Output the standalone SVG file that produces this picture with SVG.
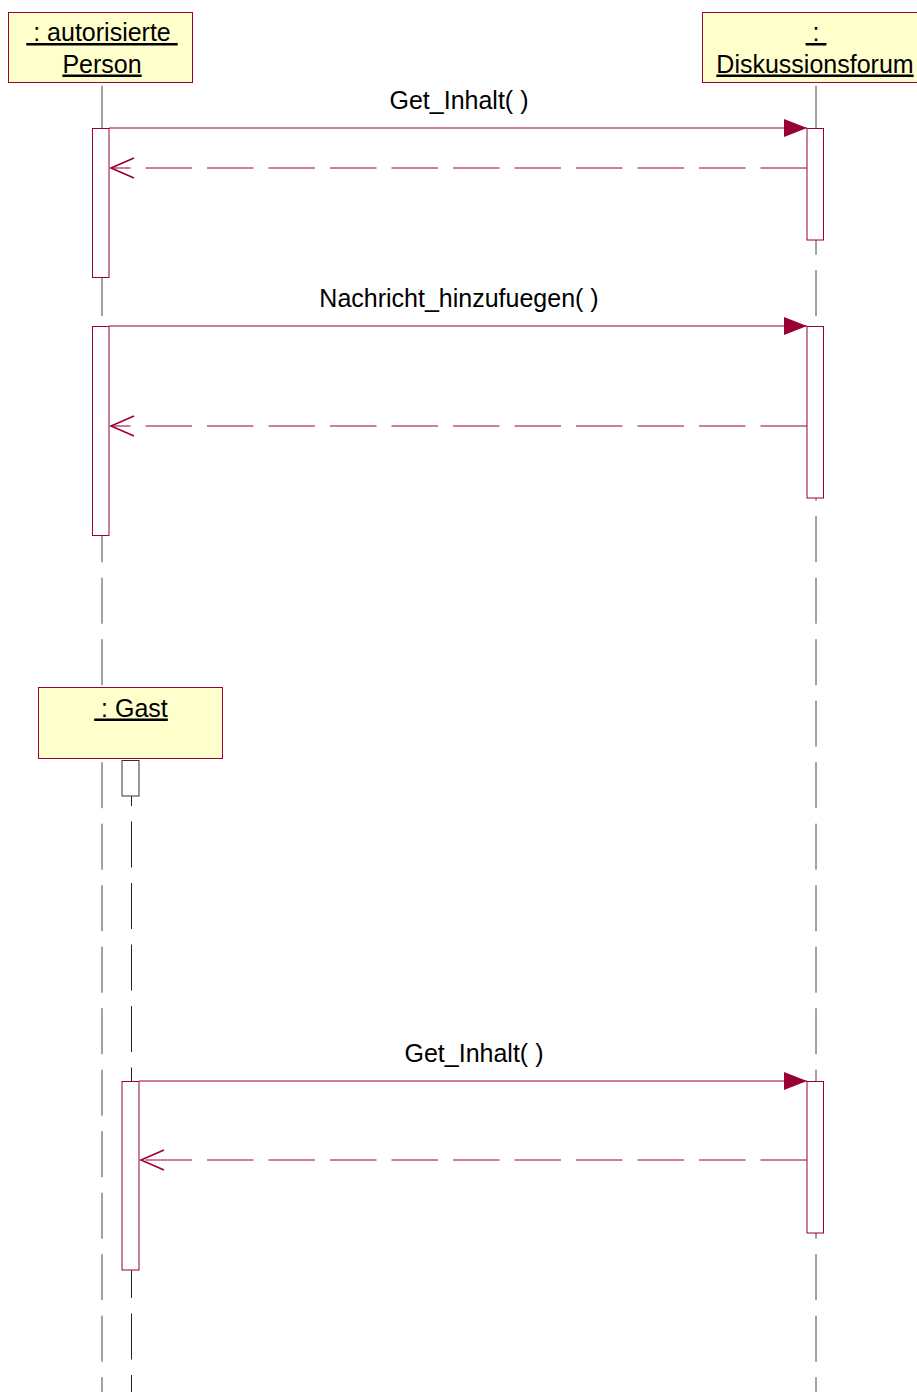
<svg xmlns="http://www.w3.org/2000/svg" width="917" height="1392" viewBox="0 0 917 1392">
<style>
.actor{fill:#ffffcc;stroke:#990033;stroke-width:1}
.act{fill:#ffffff;stroke:#990033;stroke-width:1}
.act0{fill:#ffffff;stroke:#333333;stroke-width:1}
.life{stroke:#444444;stroke-width:1;stroke-dasharray:46 15.5;fill:none}
.msg{stroke:#990033;stroke-width:1;fill:none}
.ret{stroke:#990033;stroke-width:1;fill:none;stroke-dasharray:46.5 15}
.t{font-family:"Liberation Sans",Arial,sans-serif;font-size:25px;fill:#000000;text-anchor:middle;white-space:pre}
.u{text-decoration:underline}
</style>
<defs>
<marker id="solid" markerUnits="userSpaceOnUse" viewBox="-23 -9.5 24 19" refX="0" refY="0" markerWidth="24" markerHeight="19" orient="auto">
<path d="M-23,-9 L0,0 L-23,9 Z" fill="#990033" stroke="none"/>
</marker>
<marker id="open" markerUnits="userSpaceOnUse" viewBox="-25 -11 27 22" refX="0" refY="0" markerWidth="27" markerHeight="22" orient="auto">
<path d="M-23,-10 L0,0 L-23,10" fill="none" stroke="#990033" stroke-width="1.6" stroke-dasharray="none"/>
</marker>
</defs>
<rect width="917" height="1392" fill="#ffffff"/>
<g id="lifelines">
<line class="life" x1="102" y1="85.7" x2="102" y2="1392"/>
<line class="life" x1="816" y1="85.7" x2="816" y2="1392"/>
<line class="life" x1="131.5" y1="760" x2="131.5" y2="1392" style="stroke:#222222"/>
</g>
<g id="person">
<rect class="actor" x="8.5" y="12.5" width="184" height="70"/>
<text class="t u" x="102" y="41" xml:space="preserve"> : autorisierte </text>
<text class="t u" x="102" y="72.5">Person</text>
</g>
<g id="forum">
<rect class="actor" x="702.5" y="12.5" width="230" height="70"/>
<text class="t u" x="816" y="41" xml:space="preserve"> : </text>
<text class="t u" x="815" y="72.5">Diskussionsforum</text>
</g>
<g id="gast">
<rect class="actor" x="38.5" y="687.5" width="184" height="71"/>
<text class="t u" x="131" y="716.5" xml:space="preserve"> : Gast</text>
</g>
<g id="activations">
<rect class="act" x="92.5" y="128.5" width="16.5" height="149"/>
<rect class="act" x="807" y="128.5" width="16.5" height="111.5"/>
<rect class="act" x="92.5" y="326.5" width="16.5" height="209"/>
<rect class="act" x="807" y="326.5" width="16.5" height="171.5"/>
<rect class="act0" x="122" y="760.5" width="17" height="35.5"/>
<rect class="act" x="122" y="1081.5" width="17" height="188.5"/>
<rect class="act" x="807" y="1081.5" width="16.5" height="151.5"/>
</g>
<g id="connectors">
<line class="msg" x1="109" y1="128" x2="807" y2="128" marker-end="url(#solid)"/>
<text class="t" x="459" y="108.5">Get_Inhalt( )</text>
<line class="ret" x1="807" y1="168" x2="111" y2="168" marker-end="url(#open)"/>
<line class="msg" x1="109" y1="326" x2="807" y2="326" marker-end="url(#solid)"/>
<text class="t" x="459" y="307">Nachricht_hinzufuegen( )</text>
<line class="ret" x1="807" y1="426" x2="111" y2="426" marker-end="url(#open)"/>
<line class="msg" x1="139" y1="1081" x2="807" y2="1081" marker-end="url(#solid)"/>
<text class="t" x="474" y="1061.5">Get_Inhalt( )</text>
<line class="ret" x1="807" y1="1160" x2="141" y2="1160" marker-end="url(#open)"/>
</g>
</svg>
